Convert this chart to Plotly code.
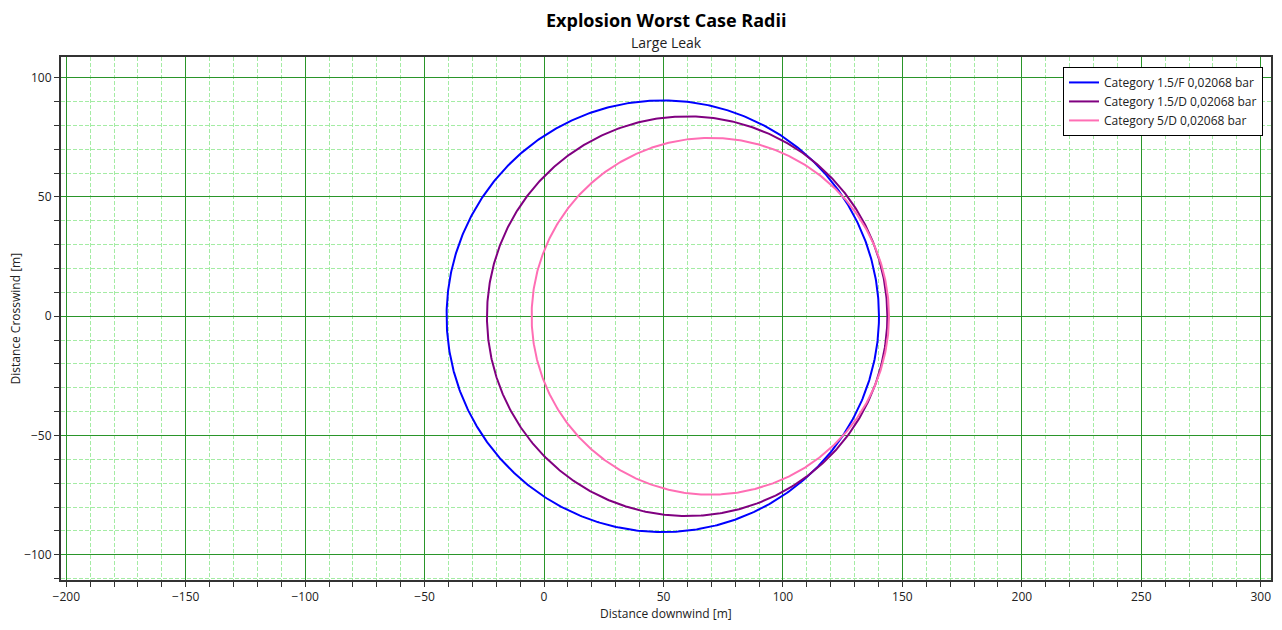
import numpy as np
import plotly.graph_objects as go

# scenarios: centre x, centre y, radius (m)
names = ["Category 1.5/F 0,02068 bar", "Category 1.5/D 0,02068 bar", "Category 5/D 0,02068 bar"]
centre_x = [49.7, 59.9, 69.6]
centre_y = [0.0, 0.0, 0.0]
radius = [90.5, 83.8, 74.8]
colors = ["#0000ff", "#800080", "#ff6eb4"]

x_ticks = [-200, -150, -100, -50, 0, 50, 100, 150, 200, 250, 300]
y_ticks = [-100, -50, 0, 50, 100]

theta = np.linspace(0, 2 * np.pi, 721)

fig = go.Figure()
for n, cx, cy, r, c in zip(names, centre_x, centre_y, radius, colors):
    fig.add_trace(go.Scatter(
        x=cx + r * np.cos(theta),
        y=cy + r * np.sin(theta),
        mode="lines",
        name=n,
        line=dict(color=c, width=2),
    ))

axis_common = dict(
    automargin=False,
    showline=True, linecolor="#333333", linewidth=2, mirror=True,
    ticks="outside", ticklen=5, tickcolor="#333333",
    showgrid=True, gridcolor="#2a952a", gridwidth=1,
    zeroline=False,
    tickfont=dict(size=12, color="#222222"),
    minor=dict(dtick=10, showgrid=True, gridcolor="#a4eca4", griddash="4px,2px",
               gridwidth=1, ticks="outside", ticklen=5, tickcolor="#333333"),
)

# page body has an 8px margin, so the figure is sized to fit inside the window
fig.update_layout(
    width=1266, height=614,
    margin=dict(l=53, r=3, t=49, b=42),
    plot_bgcolor="white", paper_bgcolor="white",
    font=dict(family="Open Sans", size=12, color="#222222"),
    xaxis=dict(axis_common, range=[-202.2, 304.3], tickvals=x_ticks),
    yaxis=dict(axis_common, range=[-110.6, 108.7], tickvals=y_ticks),
    legend=dict(
        x=0.9934, xanchor="right", y=0.981, yanchor="top",
        bordercolor="black", borderwidth=1, bgcolor="white",
        font=dict(size=12, color="#222222"),
        tracegroupgap=0,
    ),
    annotations=[
        dict(text="<b>Explosion Worst Case Radii</b>", xref="paper", yref="paper",
             x=0.5, y=1, yshift=37, yanchor="middle", showarrow=False,
             font=dict(size=18, color="black")),
        dict(text="Large Leak", xref="paper", yref="paper",
             x=0.5, y=1, yshift=15, yanchor="middle", showarrow=False,
             font=dict(size=14, color="#222222")),
        dict(text="Distance downwind [m]", xref="paper", yref="paper",
             x=0.5, y=0, yshift=-33, yanchor="middle", showarrow=False,
             font=dict(size=12)),
        dict(text="Distance Crosswind [m]", xref="paper", yref="paper",
             x=0, y=0.5, xshift=-46, xanchor="center", showarrow=False,
             textangle=-90, font=dict(size=12)),
    ],
)

fig.write_html("out.html")
